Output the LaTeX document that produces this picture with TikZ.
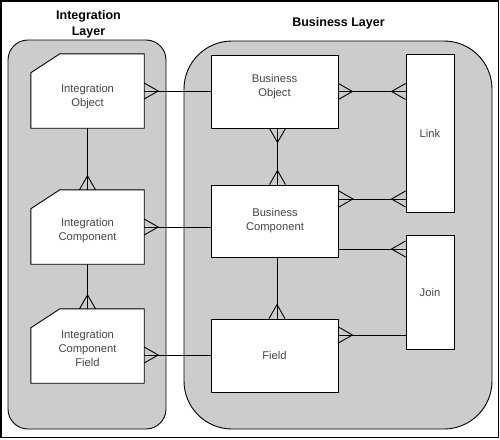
\documentclass[tikz,border=0pt]{standalone}
\usepackage{fontspec}
\setmainfont{Liberation Sans}
\usetikzlibrary{backgrounds}
\definecolor{layergrey}{RGB}{204,204,204}
\definecolor{txtgrey}{RGB}{70,70,70}
\tikzset{
  layer/.style={fill=layergrey, draw=black, line width=0.9pt},
  ibox/.style={inner sep=0pt, minimum width=113pt, minimum height=74pt},
  bbox/.style={draw=black, fill=white, line width=0.9pt, inner sep=0pt, minimum width=127pt, minimum height=73pt,
     text=txtgrey, font=\fontsize{11.2}{14}\selectfont, align=center},
  tbox/.style={draw=black, fill=white, line width=0.9pt, inner sep=0pt, minimum width=48pt,
     text=txtgrey, font=\fontsize{11.2}{14}\selectfont, align=center},
  ltext/.style={text=txtgrey, font=\fontsize{11.2}{14}\selectfont, align=center, inner sep=0pt},
  title/.style={font=\bfseries\fontsize{12.5}{16}\selectfont, align=center, inner sep=0pt},
  conn/.style={draw=black, line width=0.9pt},
  crow/.pic={\draw[conn] (0,-8) -- (14,0) -- (0,8);}
}
\begin{document}
\begin{tikzpicture}[x=1pt,y=-1pt]
\useasboundingbox (0,0) rectangle (500,439);
\draw[line width=1.2pt] (1,1) rectangle (498.5,437.5);

% titles
\node[title] (tint) at (88.5,24) {Integration\\Layer};
\node[title] (tbus) at (338.5,23) {Business Layer};

% integration layer boxes
\node[ibox, label={[ltext,yshift=-6pt]center:{Integration\\Object}}] (io) at (87.5,91) {};
\node[ibox, label={[ltext,yshift=-4pt]center:{Integration\\Component}}] (ic) at (87.5,227) {};
\node[ibox, label={[ltext,yshift=-2pt]center:{Integration\\Component\\Field}}] (icf) at (87.5,346) {};

% business layer boxes
\node[bbox, label={[ltext,yshift=5pt]center:{Business\\Object}}] (bo) at (274.5,91.5) {};
\node[bbox, minimum height=72pt] (bc) at (275,221) {Business\\Component};
\node[bbox] (fd) at (274.5,355.5) {Field};
\node[tbox, minimum height=158pt] (lk) at (430,133) {Link};
\node[tbox, minimum height=114pt] (jn) at (430,292) {Join};

\begin{pgfonlayer}{background}
  \draw[layer, rounded corners=20pt] (8,40) rectangle (166,429);
  \draw[layer, rounded corners=48pt] (184,41) rectangle (492,429);
  \foreach \n in {io,ic,icf}{
    \draw[fill=white, draw=black, line width=0.9pt]
      ([yshift=-19pt]\n.north west) -- ([xshift=29pt]\n.north west) -- (\n.north east)
      -- (\n.south east) -- (\n.south west) -- cycle;
  }
\end{pgfonlayer}

% connectors
\draw[conn] (io.east) -- (io.east -| bo.west);
\pic at (io.east) {crow};

\draw[conn] (io.south) -- (ic.north);
\pic[rotate=90] at (ic.north) {crow};

\draw[conn] (ic.east) -- (ic.east -| bc.west);
\pic at (ic.east) {crow};

\draw[conn] (ic.south) -- (icf.north);
\pic[rotate=90] at (icf.north) {crow};

\coordinate (icfr) at ([yshift=-9pt]icf.east);
\draw[conn] (icfr) -- (icfr -| fd.west);
\pic at (icfr) {crow};

\coordinate (bob) at ([xshift=3pt]bo.south);
\coordinate (bct) at (bob |- bc.north);
\draw[conn] (bob) -- (bct);
\pic[rotate=-90] at (bob) {crow};
\pic[rotate=90] at (bct) {crow};

\coordinate (lk1) at (bo.east -| lk.west);
\draw[conn] (bo.east) -- (lk1);
\pic at (bo.east) {crow};
\pic[rotate=180] at (lk1) {crow};

\coordinate (bcr1) at ([yshift=22pt]bc.east);
\coordinate (lk2) at (bcr1 -| lk.west);
\draw[conn] (bcr1) -- (lk2);
\pic at (bcr1) {crow};
\pic[rotate=180] at (lk2) {crow};

\coordinate (bcr2) at ([yshift=-28pt]bc.east);
\coordinate (jn1) at (bcr2 -| jn.west);
\draw[conn] (bcr2) -- (jn1);
\pic[rotate=180] at (jn1) {crow};

\coordinate (bcb) at ([xshift=2pt]bc.south);
\coordinate (fdt) at (bcb |- fd.north);
\draw[conn] (bcb) -- (fdt);
\pic[rotate=90] at (fdt) {crow};

\coordinate (fdr) at ([yshift=20.5pt]fd.east);
\coordinate (jn2) at (fdr -| jn.west);
\draw[conn] (fdr) -- (jn2);
\pic at (fdr) {crow};
\end{tikzpicture}
\end{document}
